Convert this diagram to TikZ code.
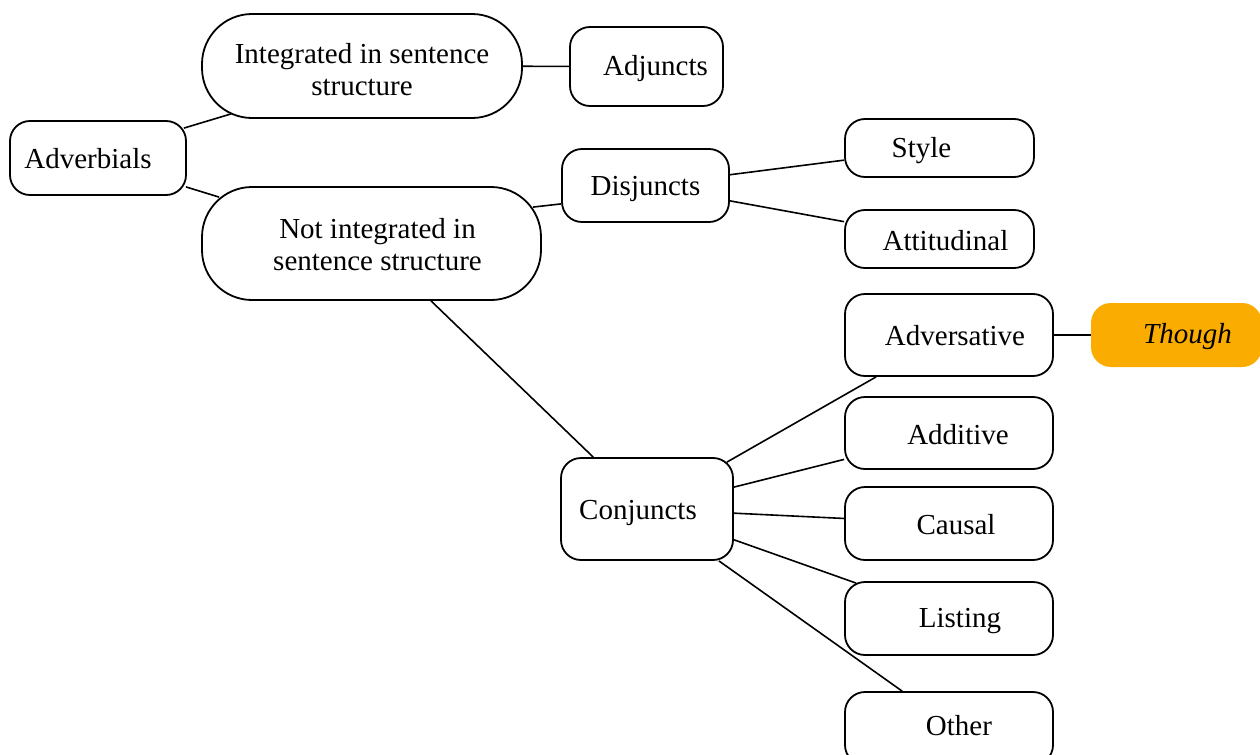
\documentclass[tikz,border=0pt]{standalone}
\usepackage{fontspec}
\setmainfont{Liberation Serif}
\definecolor{thoughorange}{RGB}{250,172,0}
\begin{document}
\begin{tikzpicture}[x=0.5pt,y=-0.5pt,
  every node/.style={font=\fontsize{14.5}{16}\selectfont},
  box/.style={draw, line width=0.9pt, rounded corners=10pt, inner sep=0pt},
  bigbox/.style={draw, line width=0.9pt, rounded corners=25pt, inner sep=0pt},
  link/.style={line width=0.8pt},
  txt/.style={align=center, inner sep=0pt, font=\fontsize{14.5}{16}\selectfont}
]
\useasboundingbox (0,0) rectangle (1260,755);
% nodes
\node[box, minimum width=88pt, minimum height=37pt,
  label={[txt,xshift=-5pt,yshift=-0.5pt]center:Adverbials}] (adv) at (98,158) {};
\node[bigbox, minimum width=160pt, minimum height=52pt,
  label={[txt,yshift=-2pt]center:Integrated in sentence\\structure}] (integ) at (362,66) {};
\node[box, minimum width=76.5pt, minimum height=39.5pt,
  label={[txt,xshift=4.5pt,yshift=-1pt]center:Adjuncts}] (adj) at (646.5,66.5) {};
\node[bigbox, minimum width=169.5pt, minimum height=56.5pt,
  label={[txt,xshift=3pt,yshift=-0.5pt]center:Not integrated in\\sentence structure}] (notint) at (371.5,243.5) {};
\node[box, minimum width=83.5pt, minimum height=36.5pt,
  label={[txt,yshift=-1.5pt]center:Disjuncts}] (disj) at (645.5,185.5) {};
\node[box, minimum width=94.5pt, minimum height=29pt,
  label={[txt,xshift=-9pt,yshift=-1.5pt]center:Style}] (style) at (939.5,148) {};
\node[box, minimum width=94.5pt, minimum height=29pt,
  label={[txt,xshift=3pt,yshift=-1pt]center:Attitudinal}] (att) at (939.5,239) {};
\node[box, minimum width=104pt, minimum height=41pt,
  label={[txt,xshift=3pt,yshift=-0.5pt]center:Adversative}] (advers) at (949,335) {};
\node[fill=thoughorange, rounded corners=10pt, inner sep=0pt, minimum width=85.5pt, minimum height=32pt,
  label={[txt,xshift=5.5pt,yshift=-1pt]center:\textit{Though}}] (though) at (1176.5,335) {};
\node[box, minimum width=104pt, minimum height=36pt,
  label={[txt,xshift=4.5pt,yshift=-1pt]center:Additive}] (additive) at (949,433) {};
\node[box, minimum width=104pt, minimum height=36.5pt,
  label={[txt,xshift=3.5pt,yshift=-0.5pt]center:Causal}] (causal) at (949,523.5) {};
\node[box, minimum width=104pt, minimum height=36.5pt,
  label={[txt,xshift=5.5pt,yshift=-1.5pt]center:Listing}] (listing) at (949,618.5) {};
\node[box, minimum width=104pt, minimum height=36.5pt,
  label={[txt,xshift=5pt,yshift=1.5pt]center:Other}] (other) at (949,728.5) {};
\node[box, minimum width=86pt, minimum height=51pt,
  label={[txt,xshift=-4.5pt,yshift=-2pt]center:Conjuncts}] (conj) at (647,509) {};
% connectors
\draw[link] ([shift={(-3,8)}]adv.north east) -- ([shift={(30,-5)}]integ.south west);
\draw[link] ([shift={(-1,-9)}]adv.south east) -- ([shift={(18,11)}]notint.north west);
\draw[link] (integ) -- (adj);
\draw[link] ([shift={(-9,21)}]notint.north east) -- ([shift={(0,-19)}]disj.south west);
\draw[link] (disj) -- (style);
\draw[link] (disj) -- (att);
\draw[link] (notint) -- (conj);
\draw[link] (advers) -- (though);
\draw[link] ([shift={(-7,5)}]conj.north east) -- ([shift={(32,0)}]advers.south west);
\draw[link] (conj) -- (additive);
\draw[link] (conj) -- (causal);
\draw[link] (conj) -- ([shift={(12,2)}]listing.north west);
\draw[link] ([shift={(-15,0)}]conj.south east) -- ([shift={(58,0)}]other.north west);
\end{tikzpicture}
\end{document}
